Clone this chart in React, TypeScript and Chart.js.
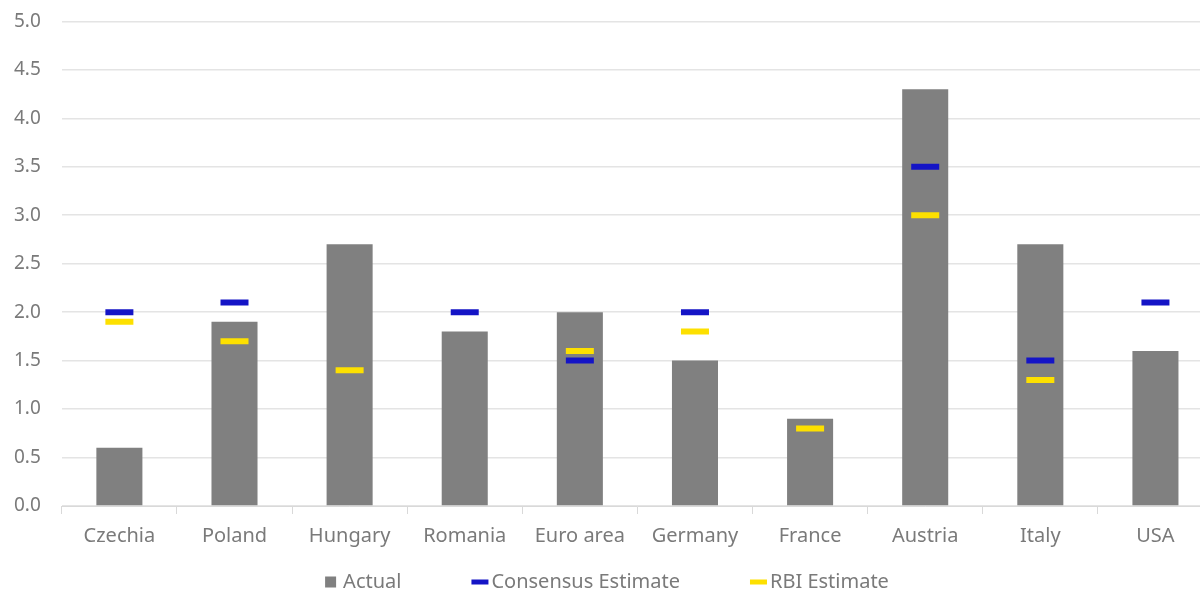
import { useEffect, useRef } from "react";
import { Chart, registerables } from "chart.js";

Chart.register(...registerables);

// Data
const countries = ["Czechia", "Poland", "Hungary", "Romania", "Euro area", "Germany", "France", "Austria", "Italy", "USA"];
const actual = [0.6, 1.9, 2.7, 1.8, 2.0, 1.5, 0.9, 4.3, 2.7, 1.6];
const consensus = [2.0, 2.1, null, 2.0, 1.5, 2.0, null, 3.5, 1.5, 2.1];
const rbiEstimate = [1.9, 1.7, 1.4, null, 1.6, 1.8, 0.8, 3.0, 1.3, null];
const legendOrder = ["Actual", "Consensus Estimate", "RBI Estimate"];

const FONT = "'Noto Sans', 'Open Sans', sans-serif";
const TEXT = "#7a7a7a";
const GRAY = "#808080";
const BLUE = "#1414c6";
const YELLOW = "#fde000";

// the picture is cropped: canvas is a bit bigger than the frame
const SHIFT_TOP = 11;
const EXTRA_RIGHT = 33;

// legend drawn by hand so item spacing can match the picture
const bottomLegend = {
  id: "bottomLegend",
  afterDraw(chart: Chart) {
    const ctx = chart.ctx;
    const items = legendOrder.map((name) => {
      const ds: any = chart.data.datasets.find((d: any) => d.label === name);
      return { name, color: ds.type === "line" ? ds.borderColor : ds.backgroundColor, isBar: ds.type !== "line" };
    });
    ctx.save();
    ctx.font = `20px ${FONT}`;
    ctx.textBaseline = "middle";
    const gap = 70;
    const widths = items.map((it) => (it.isBar ? 11 + 7 : 17 + 3) + ctx.measureText(it.name).width);
    const total = widths.reduce((a, b) => a + b, 0) + gap * (items.length - 1);
    let x = 607 - total / 2;
    const y = 582 + SHIFT_TOP;
    items.forEach((it, i) => {
      ctx.fillStyle = it.color;
      if (it.isBar) {
        ctx.fillRect(x, y - 5.5, 11, 11);
        x += 18;
      } else {
        ctx.fillRect(x, y - 2.5, 17, 5);
        x += 20;
      }
      ctx.fillStyle = TEXT;
      ctx.fillText(it.name, x, y);
      x += widths[i] - (it.isBar ? 18 : 20) + gap;
    });
    ctx.restore();
  },
};

export default function App() {
  const chartRef = useRef<HTMLCanvasElement>(null);
  const chartInstance = useRef<Chart | null>(null);

  useEffect(() => {
    if (!chartRef.current) return;
    if (chartInstance.current) chartInstance.current.destroy();

    const ctx = chartRef.current.getContext("2d");
    if (!ctx) return;

    const marker = (label: string, data: (number | null)[], color: string) => ({
      type: "line" as const,
      label,
      data,
      showLine: false,
      pointStyle: "line" as const,
      pointRadius: 14,
      pointHoverRadius: 14,
      pointBorderWidth: 6,
      pointHoverBorderWidth: 6,
      borderColor: color,
      backgroundColor: color,
      order: 1,
    });

    chartInstance.current = new Chart(ctx, {
      type: "bar",
      data: {
        labels: countries,
        datasets: [
          {
            type: "bar",
            label: "Actual",
            data: actual,
            backgroundColor: GRAY,
            borderWidth: 0,
            categoryPercentage: 1,
            barPercentage: 0.4,
            order: 2,
          },
          marker("Consensus Estimate", consensus, BLUE),
          marker("RBI Estimate", rbiEstimate, YELLOW),
        ],
      },
      options: {
        responsive: true,
        maintainAspectRatio: false,
        animation: false,
        layout: { padding: { top: 0, right: 0, left: -7, bottom: 34 } },
        plugins: {
          tooltip: { enabled: false },
          legend: { display: false },
        },
        scales: {
          x: {
            offset: true,
            grid: {
              display: true,
              offset: true,
              drawOnChartArea: false,
              drawTicks: true,
              tickLength: 8,
              color: "#d9d9d9",
            },
            border: { color: "#d9d9d9" },
            ticks: {
              color: TEXT,
              font: { family: FONT, size: 20 },
              padding: 10,
              maxRotation: 0,
            },
          },
          y: {
            min: 0,
            max: 5,
            grid: { color: "#e4e4e4", drawTicks: false, lineWidth: 1.5 },
            border: { display: false },
            ticks: {
              stepSize: 0.5,
              color: TEXT,
              font: { family: FONT, size: 19 },
              padding: 21,
              callback: (v) => Number(v).toFixed(1),
            },
          },
        },
      },
      plugins: [bottomLegend],
    });

    return () => {
      if (chartInstance.current) {
        chartInstance.current.destroy();
        chartInstance.current = null;
      }
    };
  }, []);

  return (
    <div style={{ position: "absolute", left: 0, top: 0, width: 1200, height: 592, overflow: "hidden", background: "#fff" }}>
      <div style={{ width: 1200 + EXTRA_RIGHT, height: 592 + SHIFT_TOP, marginTop: -SHIFT_TOP }}>
        <canvas ref={chartRef} />
      </div>
    </div>
  );
}
